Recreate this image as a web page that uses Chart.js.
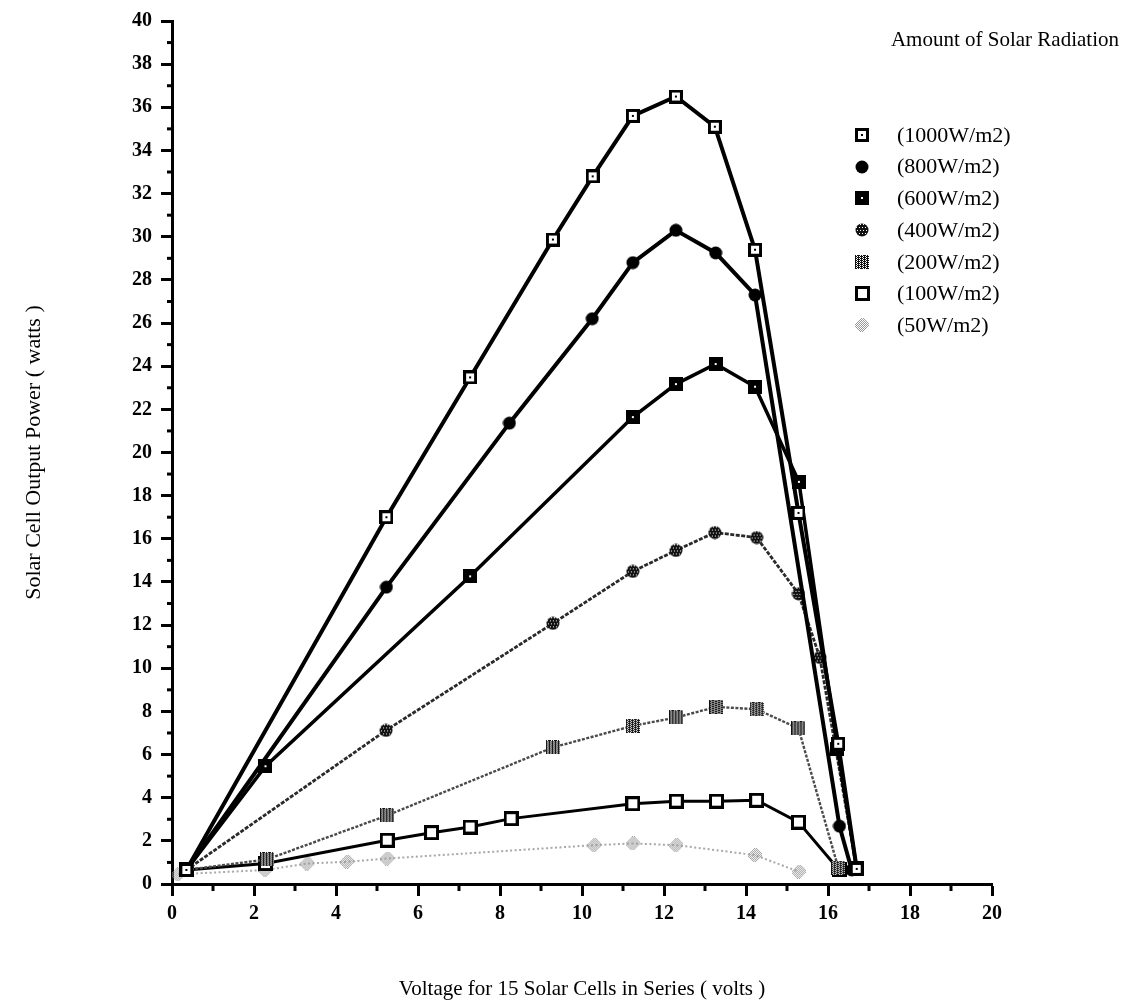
<!DOCTYPE html>
<html>
<head>
<meta charset="utf-8">
<title>Solar Cell Output Power</title>
<script src="https://cdn.jsdelivr.net/npm/chart.js@4.4.1/dist/chart.umd.min.js"></script>
<style>
  html, body { margin: 0; padding: 0; background: #fff; }
  #wrap { width: 1126px; height: 1007px; }
</style>
</head>
<body>
<div id="wrap"><canvas id="c" width="1126" height="1007"></canvas></div>
<script>
// Measured power curves for 15 series-connected solar cells at several irradiance levels
const seriesLabels = ['(1000W/m2)', '(800W/m2)', '(600W/m2)', '(400W/m2)', '(200W/m2)', '(100W/m2)', '(50W/m2)'];

const volts1000 = [0.35, 5.23, 7.27, 9.29, 10.26, 11.24, 12.29, 13.24, 14.22, 15.28, 16.25, 16.7];
const watts1000 = [0.65, 17.0, 23.48, 29.87, 32.8, 35.6, 36.5, 35.1, 29.4, 17.2, 6.5, 0.7];

const volts800 = [0.35, 5.23, 8.23, 10.25, 11.24, 12.29, 13.26, 14.22, 16.28, 16.58];
const watts800 = [0.65, 13.76, 21.36, 26.2, 28.8, 30.3, 29.25, 27.3, 2.68, 0.65];

const volts600 = [0.35, 2.28, 7.27, 11.24, 12.29, 13.26, 14.22, 15.29, 16.23, 16.7];
const watts600 = [0.65, 5.46, 14.26, 21.64, 23.17, 24.1, 23.05, 18.64, 6.26, 0.72];

const volts400 = [0.35, 5.22, 9.29, 11.24, 12.29, 13.24, 14.26, 15.28, 15.8, 16.7];
const watts400 = [0.65, 7.12, 12.08, 14.49, 15.46, 16.29, 16.06, 13.45, 10.5, 0.7];

const volts200 = [0.35, 2.32, 5.25, 9.29, 11.24, 12.3, 13.28, 14.26, 15.28, 16.25];
const watts200 = [0.65, 1.14, 3.18, 6.33, 7.33, 7.72, 8.21, 8.1, 7.21, 0.75];

const volts100 = [0.35, 2.28, 5.25, 6.33, 7.27, 8.27, 11.24, 12.3, 13.28, 14.26, 15.28, 16.27];
const watts100 = [0.65, 0.95, 2.03, 2.38, 2.64, 3.03, 3.72, 3.84, 3.84, 3.88, 2.87, 0.65];

const volts50 = [0.15, 2.28, 3.3, 4.27, 5.25, 10.3, 11.24, 12.3, 14.22, 15.29];
const watts50 = [0.45, 0.65, 0.95, 1.03, 1.18, 1.8, 1.88, 1.8, 1.34, 0.57];

const xTickValues = [0, 2, 4, 6, 8, 10, 12, 14, 16, 18, 20];
const yTickValues = [0, 2, 4, 6, 8, 10, 12, 14, 16, 18, 20, 22, 24, 26, 28, 30, 32, 34, 36, 38, 40];

const legendTitle = 'Amount of Solar Radiation';
const xTitle = 'Voltage for 15 Solar Cells in Series ( volts )';
const yTitle = 'Solar Cell Output Power ( watts )';

const SERIF = '"Liberation Serif", "DejaVu Serif", serif';

function toPoints(xs, ys) { return xs.map((x, i) => ({ x: x, y: ys[i] })); }

// --- marker glyphs drawn on small canvases ---
function glyph(w, h, draw) {
  const c = document.createElement('canvas');
  c.width = w; c.height = h;
  draw(c.getContext('2d'), w, h);
  return c;
}
const mk1000 = glyph(14, 14, (g) => {
  g.fillStyle = '#000'; g.fillRect(0, 0, 14, 14);
  g.fillStyle = '#fff'; g.fillRect(3, 3, 8, 8);
  g.fillStyle = '#000'; g.fillRect(6, 6, 2, 2);
});
const mk800 = glyph(14, 14, (g) => {
  g.fillStyle = '#000'; g.beginPath(); g.arc(7, 7, 6.5, 0, Math.PI * 2); g.fill();
});
const mk600 = glyph(14, 14, (g) => {
  g.fillStyle = '#000'; g.fillRect(0, 0, 14, 14);
  g.fillStyle = '#fff'; g.fillRect(6, 6, 2, 2);
});
const mk400 = glyph(14, 14, (g) => {
  g.save(); g.beginPath(); g.arc(7, 7, 6.5, 0, Math.PI * 2); g.clip();
  g.fillStyle = '#111'; g.fillRect(0, 0, 14, 14);
  g.fillStyle = '#fff';
  for (let y = 1; y < 14; y += 3) for (let x = (y % 2) + 1; x < 14; x += 3) g.fillRect(x, y, 1, 1);
  g.restore();
});
const mk200 = glyph(14, 14, (g) => {
  g.fillStyle = '#fff'; g.fillRect(0, 0, 14, 14);
  g.fillStyle = '#111';
  for (let y = 0; y < 14; y++) for (let x = 0; x < 14; x++) if ((x + y) % 2 === 0 || (x % 3 === 0)) g.fillRect(x, y, 1, 1);
});
const mk100 = glyph(15, 15, (g) => {
  g.fillStyle = '#000'; g.fillRect(0, 0, 15, 15);
  g.fillStyle = '#fff'; g.fillRect(3, 3, 9, 9);
});
const mk50 = glyph(14, 14, (g) => {
  g.fillStyle = '#9a9a9a';
  for (let y = 0; y < 14; y++) for (let x = 0; x < 14; x++)
    if (Math.abs(x - 6.5) + Math.abs(y - 6.5) <= 8 && (x + y) % 2 === 0) g.fillRect(x, y, 1, 1);
});

const markers = [mk1000, mk800, mk600, mk400, mk200, mk100, mk50];

function series(label, xs, ys, color, width, dash, marker) {
  return {
    label: label,
    data: toPoints(xs, ys),
    borderColor: color,
    backgroundColor: color,
    borderWidth: width,
    borderDash: dash,
    tension: 0,
    pointStyle: marker,
    pointRadius: 7,
    pointHoverRadius: 7
  };
}

const datasets = [
  series(seriesLabels[0], volts1000, watts1000, '#000', 4, [], mk1000),
  series(seriesLabels[1], volts800, watts800, '#000', 4, [], mk800),
  series(seriesLabels[2], volts600, watts600, '#000', 3.5, [], mk600),
  series(seriesLabels[3], volts400, watts400, '#2a2a2a', 2.8, [4, 1.5], mk400),
  series(seriesLabels[4], volts200, watts200, '#4a4a4a', 2.4, [3, 1.5], mk200),
  series(seriesLabels[5], volts100, watts100, '#000', 3, [], mk100),
  series(seriesLabels[6], volts50, watts50, '#a8a8a8', 2, [2, 2.5], mk50)
];

// Short unlabeled ticks at odd values on both axes
const minorTicks = {
  id: 'minorTicks',
  afterDraw(chart) {
    const { ctx, scales: { x, y } } = chart;
    ctx.save();
    ctx.strokeStyle = '#000';
    ctx.lineWidth = 3;
    for (let v = 1; v < 20; v += 2) {
      const px = x.getPixelForValue(v);
      ctx.beginPath(); ctx.moveTo(px, y.bottom); ctx.lineTo(px, y.bottom + 7); ctx.stroke();
    }
    for (let v = 1; v < 40; v += 2) {
      const py = y.getPixelForValue(v);
      ctx.beginPath(); ctx.moveTo(x.left, py); ctx.lineTo(x.left - 5, py); ctx.stroke();
    }
    ctx.restore();
  }
};

// Legend block in the upper right: title plus one row per irradiance level
const sideLegend = {
  id: 'sideLegend',
  afterDraw(chart) {
    const ctx = chart.ctx;
    ctx.save();
    ctx.fillStyle = '#000';
    ctx.textBaseline = 'middle';
    ctx.font = '21px ' + SERIF;
    ctx.textAlign = 'right';
    ctx.fillText(legendTitle, 1119, 40);
    ctx.font = '22px ' + SERIF;
    ctx.textAlign = 'left';
    chart.data.datasets.forEach((ds, i) => {
      const rowY = 135 + i * 31.7;
      const m = markers[i];
      ctx.drawImage(m, Math.round(862 - m.width / 2), Math.round(rowY - m.height / 2));
      ctx.fillText(ds.label, 897, rowY + 1);
    });
    ctx.restore();
  }
};

new Chart(document.getElementById('c'), {
  type: 'line',
  data: { datasets: datasets },
  options: {
    responsive: false,
    animation: false,
    events: [],
    layout: { padding: { left: 0, top: 15, right: 134, bottom: 0 } },
    plugins: {
      legend: { display: false },
      tooltip: { enabled: false },
      title: { display: false }
    },
    scales: {
      x: {
        type: 'linear',
        min: 0,
        max: 20,
        afterFit(scale) { scale.height = 123; },
        afterBuildTicks(scale) { scale.ticks = xTickValues.map(v => ({ value: v })); },
        border: { display: true, color: '#000', width: 3 },
        grid: { drawOnChartArea: false, drawTicks: true, tickLength: 12, tickWidth: 3, tickColor: '#000' },
        ticks: {
          color: '#000',
          padding: 6,
          maxRotation: 0,
          font: { family: SERIF, size: 20, weight: 'bold' }
        },
        title: {
          display: true,
          text: xTitle,
          color: '#000',
          font: { family: SERIF, size: 21 },
          padding: { top: 0, bottom: 5 }
        }
      },
      y: {
        type: 'linear',
        min: 0,
        max: 40,
        afterFit(scale) { scale.width = 172; },
        afterBuildTicks(scale) { scale.ticks = yTickValues.map(v => ({ value: v })); },
        border: { display: true, color: '#000', width: 3 },
        grid: { drawOnChartArea: false, drawTicks: true, tickLength: 11, tickWidth: 3, tickColor: '#000' },
        ticks: {
          color: '#000',
          padding: 9,
          font: { family: SERIF, size: 20, weight: 'bold' }
        },
        title: {
          display: true,
          text: yTitle,
          color: '#000',
          font: { family: SERIF, size: 22 },
          padding: { top: 21, bottom: 0 }
        }
      }
    }
  },
  plugins: [minorTicks, sideLegend]
});
</script>
</body>
</html>
